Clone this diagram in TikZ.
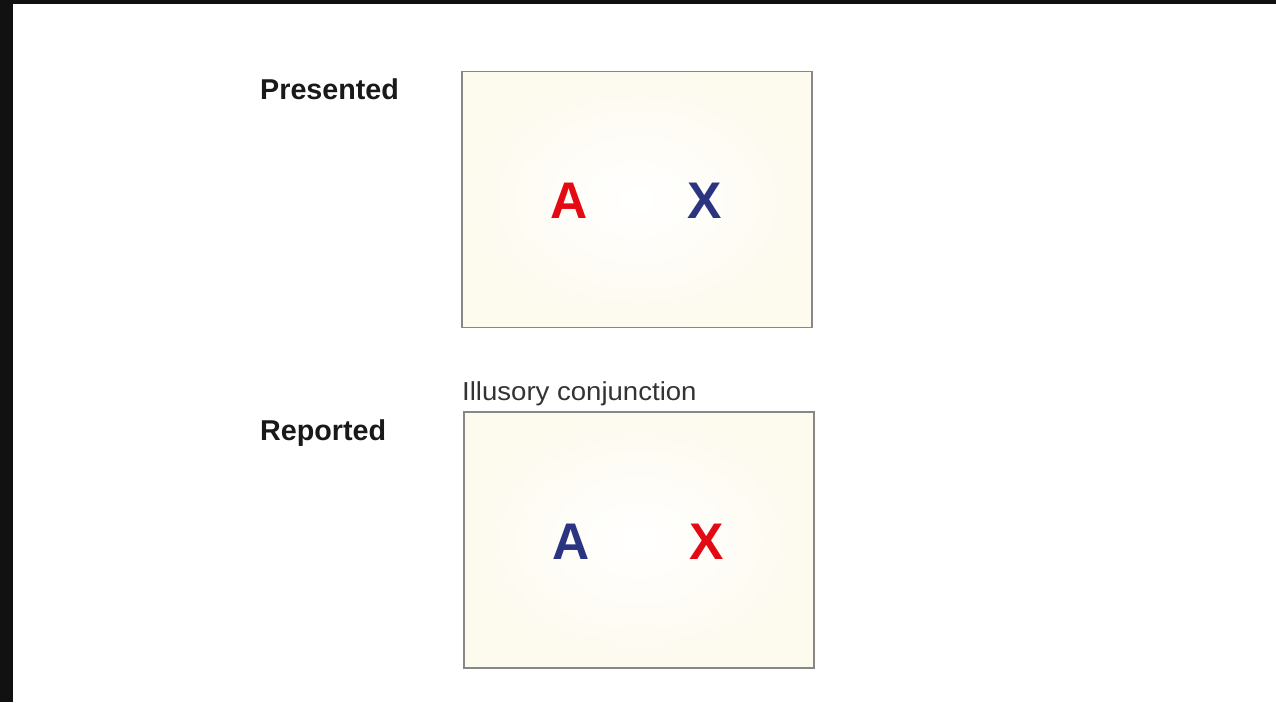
\documentclass[tikz,border=0pt]{standalone}
\usepackage{fontspec}
\setmainfont{Liberation Sans}
\newfontfamily\capfont[FakeStretch=1.06]{Liberation Sans}
\definecolor{cream}{RGB}{253,250,238}
\definecolor{boxline}{RGB}{135,135,135}
\definecolor{lred}{RGB}{228,10,20}
\definecolor{lblue}{RGB}{42,52,128}
\definecolor{frame}{RGB}{17,17,17}
\tikzset{
  panel/.style={draw=boxline, line width=1.5pt, inner color=white, outer color=cream,
    minimum width=350pt, minimum height=256pt, inner sep=0pt},
  letter/.style={font=\fontsize{51.5pt}{52pt}\selectfont\bfseries, inner sep=0pt, anchor=base},
  rowlabel/.style={font=\fontsize{28.7pt}{30pt}\selectfont\bfseries, inner sep=0pt, anchor=base west, text=black!90},
  caption/.style={font=\capfont\fontsize{26pt}{28pt}\selectfont, inner sep=0pt, anchor=base west, text=black!80}
}
\begin{document}
\begin{tikzpicture}[x=1pt,y=-1pt]
\useasboundingbox (0,0) rectangle (1276,702);
\fill[white] (0,0) rectangle (1276,702);
\fill[frame] (0,0) rectangle (1276,4);
\fill[frame] (0,0) rectangle (13,702);
\node[panel] (top) at (637,199.5) {};
\node[panel] (bot) at (639,540) {};
\node[letter, text=lred] (tA) at (569,218) {A};
\node[letter, text=lblue] (tX) at (705,218) {X};
\node[letter, text=lblue] (bA) at (571,559) {A};
\node[letter, text=lred] (bX) at (707,559) {X};
\node[rowlabel] (pres) at (260,99) {Presented};
\node[rowlabel] (rep) at (260,440) {Reported};
\node[caption] (ill) at (462,400) {Illusory conjunction};
\end{tikzpicture}
\end{document}
